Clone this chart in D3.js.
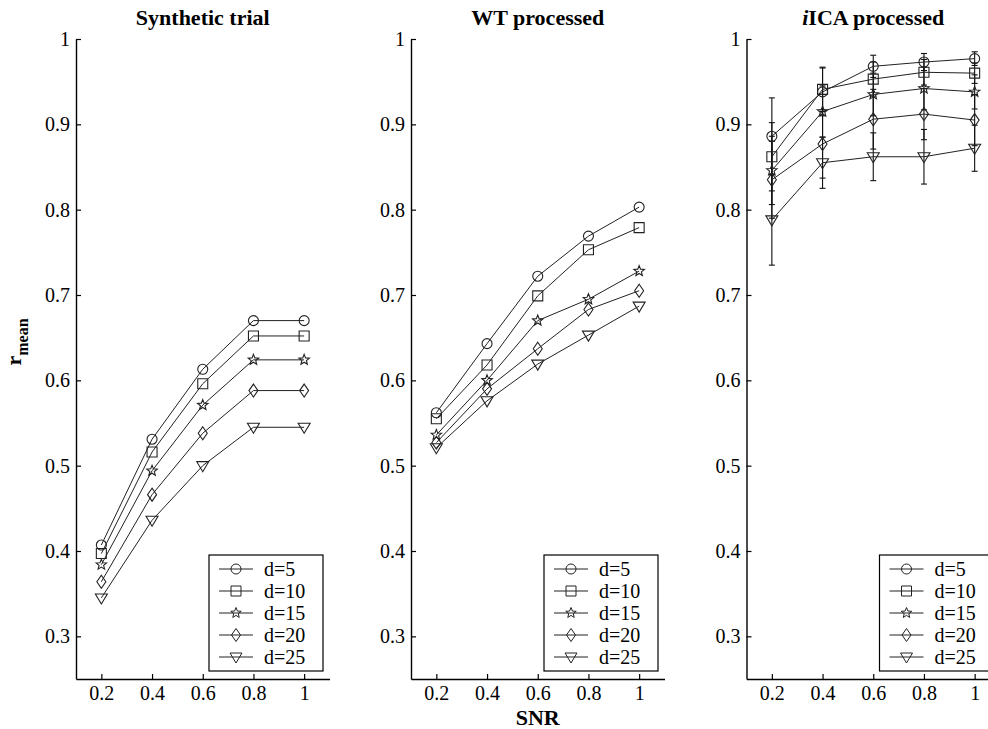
<!DOCTYPE html>
<html>
<head>
<meta charset="utf-8">
<script src="https://cdn.jsdelivr.net/npm/d3@7"></script>
<style>
  body { margin: 0; background: #fff; }
  text { font-family: "Liberation Serif", "Times New Roman", serif; fill: #000; }
  .tick line, .domain { stroke: #000; }
</style>
</head>
<body>
<div id="chart"></div>
<script>
const width = 988;
const height = 729;

// data
const snr = [0.2, 0.4, 0.6, 0.8, 1];
const labels = ["d=5", "d=10", "d=15", "d=20", "d=25"];
const markers = ["circle", "square", "star", "diamond", "triangle"];
const yTicks = [0.3, 0.4, 0.5, 0.6, 0.7, 0.8, 0.9, 1];

const synthetic = [
    [0.407, 0.531, 0.613, 0.670, 0.670],
    [0.397, 0.516, 0.596, 0.652, 0.652],
    [0.384, 0.494, 0.571, 0.624, 0.624],
    [0.364, 0.466, 0.538, 0.588, 0.588],
    [0.345, 0.436, 0.500, 0.545, 0.545]
];
const wt = [
    [0.562, 0.643, 0.722, 0.769, 0.803],
    [0.555, 0.618, 0.699, 0.753, 0.779],
    [0.536, 0.600, 0.670, 0.695, 0.728],
    [0.527, 0.590, 0.637, 0.683, 0.705],
    [0.521, 0.576, 0.619, 0.653, 0.687]
];
const ica = [
    [0.886, 0.938, 0.968, 0.973, 0.977],
    [0.862, 0.941, 0.953, 0.961, 0.960],
    [0.846, 0.915, 0.935, 0.942, 0.938],
    [0.835, 0.877, 0.906, 0.912, 0.905],
    [0.788, 0.855, 0.862, 0.862, 0.872]
];
const icaErr = [
    [0.045, 0.028, 0.013, 0.010, 0.008],
    [0.040, 0.026, 0.020, 0.015, 0.012],
    [0.040, 0.030, 0.025, 0.025, 0.020],
    [0.045, 0.040, 0.035, 0.030, 0.030],
    [0.053, 0.030, 0.028, 0.032, 0.027]
];

const panels = [
    { title: "Synthetic trial", values: synthetic, left: 76 },
    { title: "WT processed", values: wt, left: 411 },
    { title: "ICA processed", italic: "i", values: ica, err: icaErr, left: 746.5 }
];

const plotTop = 39, plotBottom = 679, panelW = 253.5;

const svg = d3.select("#chart")
    .append("svg")
    .attr("width", width)
    .attr("height", height)
    .style("background", "#fff");

const x = d3.scaleLinear().domain([0.1, 1.1]).range([0, panelW]);
const y = d3.scaleLinear().domain([0.25, 1]).range([plotBottom, plotTop]);
const fmt = d => d === 1 ? "1" : d3.format(".1f")(d);

function markerPath(type) {
    switch (type) {
        case "circle":
            return "M5,0A5,5 0 1,1 -5,0A5,5 0 1,1 5,0Z";
        case "square":
            return "M-5,-5H5V5H-5Z";
        case "diamond":
            return "M0,-6.5L4.5,0L0,6.5L-4.5,0Z";
        case "triangle":
            return "M-6,-4H6L0,6Z";
        case "star": {
            const pts = d3.range(10).map(i => {
                const r = i % 2 === 0 ? 5.5 : 2.4;
                const a = -Math.PI / 2 + i * Math.PI / 5;
                return [r * Math.cos(a), r * Math.sin(a)];
            });
            return "M" + pts.join("L") + "Z";
        }
    }
}

const line = d3.line()
    .x((d, i) => x(snr[i]))
    .y(d => y(d));

panels.forEach(p => {
    const g = svg.append("g").attr("transform", `translate(${p.left},0)`);

    // title
    const t = g.append("text")
        .attr("x", panelW / 2)
        .attr("y", 25)
        .attr("text-anchor", "middle")
        .style("font-size", "22px")
        .style("font-weight", "bold");
    if (p.italic) t.append("tspan").style("font-style", "italic").text(p.italic);
    t.append("tspan").text(p.title);

    // axes
    const yAxis = d3.axisLeft(y).tickValues(yTicks).tickFormat(fmt)
        .tickSize(-5).tickSizeOuter(0).tickPadding(6);
    const xAxis = d3.axisBottom(x).tickValues(snr).tickFormat(fmt)
        .tickSize(-5).tickSizeOuter(0).tickPadding(7);

    const ya = g.append("g").call(yAxis);
    const xa = g.append("g").attr("transform", `translate(0,${plotBottom})`).call(xAxis);
    [ya, xa].forEach(a => {
        a.select(".domain").attr("stroke-width", 1.4);
        a.selectAll(".tick line").attr("stroke-width", 1.2);
        a.selectAll("text").style("font-size", "20px").attr("fill", "#000");
    });

    // error bars
    if (p.err) {
        p.values.forEach((row, si) => {
            row.forEach((v, i) => {
                const e = p.err[si][i];
                const cx = x(snr[i]);
                const eg = g.append("g").attr("stroke", "#111").attr("stroke-width", 1.1);
                eg.append("line").attr("x1", cx).attr("x2", cx).attr("y1", y(v - e)).attr("y2", y(v + e));
                [v - e, v + e].forEach(vv => {
                    eg.append("line").attr("x1", cx - 3).attr("x2", cx + 3).attr("y1", y(vv)).attr("y2", y(vv));
                });
            });
        });
    }

    // series
    p.values.forEach((row, si) => {
        g.append("path")
            .datum(row)
            .attr("d", line)
            .attr("fill", "none")
            .attr("stroke", "#222")
            .attr("stroke-width", 1);
        g.selectAll(null)
            .data(row)
            .enter()
            .append("path")
            .attr("d", markerPath(markers[si]))
            .attr("transform", (d, i) => `translate(${x(snr[i])},${y(d)})`)
            .attr("fill", "none")
            .attr("stroke", "#222")
            .attr("stroke-width", 1.1);
    });

    // legend
    const lg = g.append("g").attr("transform", `translate(133,555)`);
    lg.append("rect")
        .attr("width", 114)
        .attr("height", 116)
        .attr("fill", "#fff")
        .attr("stroke", "#000")
        .attr("stroke-width", 1.2);
    labels.forEach((lab, i) => {
        const ly = 14 + i * 22;
        lg.append("line")
            .attr("x1", 10).attr("x2", 44)
            .attr("y1", ly).attr("y2", ly)
            .attr("stroke", "#222");
        lg.append("path")
            .attr("d", markerPath(markers[i]))
            .attr("transform", `translate(27,${ly})`)
            .attr("fill", "none")
            .attr("stroke", "#222");
        lg.append("text")
            .attr("x", 55)
            .attr("y", ly)
            .attr("dy", "0.35em")
            .style("font-size", "20px")
            .text(lab);
    });
});

// shared axis labels
svg.append("text")
    .attr("x", 411 + panelW / 2)
    .attr("y", 725)
    .attr("text-anchor", "middle")
    .style("font-size", "22px")
    .style("font-weight", "bold")
    .text("SNR");

const yl = svg.append("text")
    .attr("transform", "translate(21,342) rotate(-90)")
    .attr("text-anchor", "middle")
    .style("font-size", "22px")
    .style("font-weight", "bold");
yl.append("tspan").text("r");
yl.append("tspan").attr("dy", 7).style("font-size", "16px").text("mean");
</script>
</body>
</html>
